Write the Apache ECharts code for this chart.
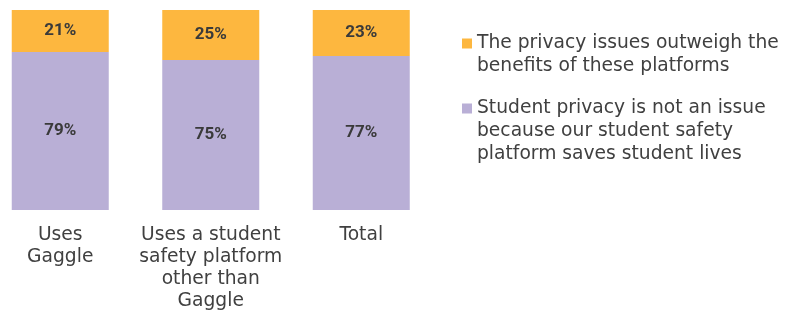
<!DOCTYPE html>
<html>
<head>
<meta charset="utf-8">
<script src="https://cdn.jsdelivr.net/npm/echarts@6/dist/echarts.min.js"></script>
<style>html,body{margin:0;padding:0;background:#fff}#c{width:790px;height:315px}</style>
</head>
<body>
<div id="c"></div>
<script>
const categories = ['Uses\nGaggle', 'Uses a student\nsafety platform\nother than\nGaggle', 'Total'];
const seriesNames = [
  'The privacy issues outweigh the\nbenefits of these platforms',
  'Student privacy is not an issue\nbecause our student safety\nplatform saves student lives'
];
const privacyOutweighs = [21, 25, 23];
const notAnIssue = [79, 75, 77];
const colors = ['#FDB73F', '#B9AFD6'];

const font = 'DejaVu Sans';
const chart = echarts.init(document.getElementById('c'), null, {renderer: 'canvas'});
const labelCfg = {
  show: true, position: 'inside', formatter: '{c}%',
  fontFamily: 'Roboto', fontWeight: 'bold', fontSize: 17, color: '#3a3a3a'
};
const legendText = {fontFamily: font, fontSize: 18.7, color: '#404040', lineHeight: 23};
chart.setOption({
  animation: false,
  grid: {left: -15, top: 10, width: 451.5, bottom: 105, outerBoundsMode: 'none', containLabel: false},
  xAxis: {
    type: 'category', data: categories,
    axisLine: {show: false}, axisTick: {show: false},
    axisLabel: {fontFamily: font, fontSize: 18.7, color: '#404040', lineHeight: 22, margin: 14, interval: 0}
  },
  yAxis: {type: 'value', min: 0, max: 100, show: false},
  legend: [
    {
      data: [{name: seriesNames[0], icon: 'path://M0,0H10V10H0Z M0,33L0.01,33'}],
      left: 462, top: 32, padding: 0, itemWidth: 10, itemHeight: 33, itemGap: 5,
      textStyle: legendText, selectedMode: false
    },
    {
      data: [{name: seriesNames[1], icon: 'path://M0,0H10V10H0Z M0,56L0.01,56'}],
      left: 462, top: 97, padding: 0, itemWidth: 10, itemHeight: 56, itemGap: 5,
      textStyle: legendText, selectedMode: false
    }
  ],
  series: [
    {name: seriesNames[1], type: 'bar', stack: 's', data: notAnIssue, barWidth: 97,
     itemStyle: {color: colors[1]}, label: labelCfg},
    {name: seriesNames[0], type: 'bar', stack: 's', data: privacyOutweighs, barWidth: 97,
     itemStyle: {color: colors[0]}, label: labelCfg}
  ]
});
</script>
</body>
</html>
